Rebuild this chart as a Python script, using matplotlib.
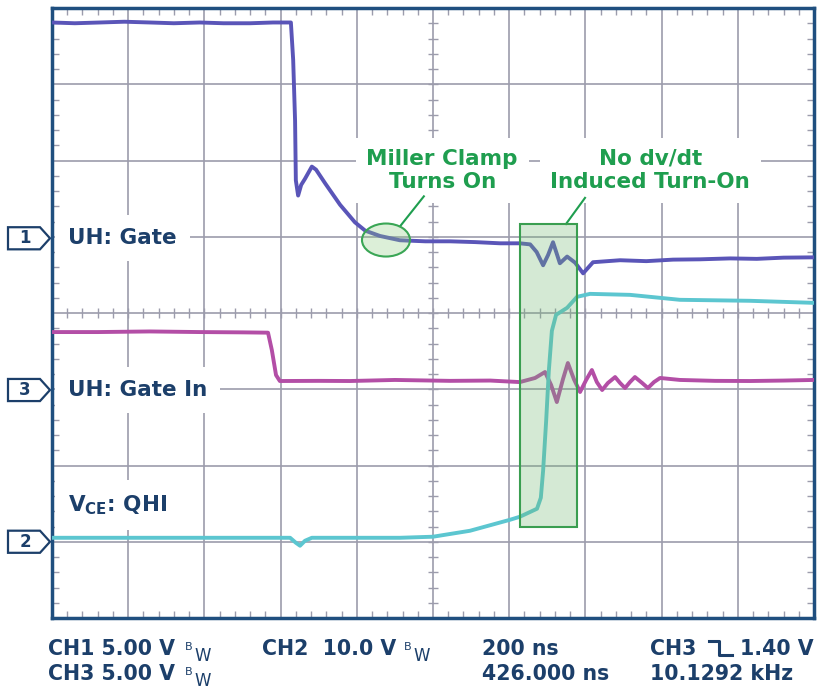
import numpy as np
import matplotlib
matplotlib.use('Agg')
import matplotlib.pyplot as plt
from matplotlib.patches import Rectangle, Ellipse, Polygon
from matplotlib.transforms import blended_transform_factory

plt.rcParams['font.family'] = 'DejaVu Sans'
plt.rcParams['mathtext.fontset'] = 'dejavusans'

# scope settings
ns_per_div = 200
ch1_v_per_div, ch2_v_per_div, ch3_v_per_div = 5.0, 10.0, 5.0
ch1_offset, ch3_offset, ch2_offset = 0.98, -1.01, -3.0   # ground markers, divisions

# CH1 UH: Gate  (time ns, volts)
ch1_t = [0, 60, 126, 190, 257, 320, 388, 450, 520, 580, 627, 633, 638, 640, 646, 654, 664,
         682, 693, 717, 756, 795, 822, 861, 913, 980, 1045, 1110, 1176, 1228, 1255, 1272,
         1289, 1302, 1315, 1333, 1352, 1373, 1394, 1420, 1491, 1560, 1630, 1701, 1780,
         1850, 1920, 2000]
ch1_v = [14.15, 14.1, 14.15, 14.2, 14.15, 14.1, 14.15, 14.1, 14.1, 14.15, 14.15, 11.7, 7.7,
         3.8, 2.8, 3.5, 3.9, 4.7, 4.5, 3.6, 2.2, 1.05, 0.5, 0.15, -0.13, -0.2, -0.2, -0.25,
         -0.33, -0.33, -0.4, -0.9, -1.77, -1.1, -0.26, -1.64, -1.2, -1.6, -2.3, -1.57, -1.44,
         -1.5, -1.4, -1.38, -1.32, -1.35, -1.27, -1.25]

# CH3 UH: Gate In
ch3_t = [0, 120, 257, 388, 500, 567, 577, 588, 598, 700, 782, 900, 1045, 1150, 1228, 1268,
         1294, 1310, 1325, 1341, 1354, 1370, 1386, 1402, 1417, 1430, 1444, 1459, 1478, 1491,
         1504, 1517, 1530, 1549, 1564, 1580, 1596, 1648, 1740, 1832, 1920, 2000]
ch3_v = [3.8, 3.8, 3.84, 3.8, 3.78, 3.76, 2.62, 0.98, 0.59, 0.6, 0.59, 0.66, 0.6, 0.62,
         0.52, 0.79, 1.18, 0.33, -0.79, 0.7, 1.77, 0.7, -0.13, 0.66, 1.31, 0.52, 0.0, 0.46,
         0.85, 0.46, 0.13, 0.52, 0.85, 0.46, 0.13, 0.52, 0.79, 0.66, 0.6, 0.59, 0.62, 0.66]

# CH2 VCE: QHI
ch2_t = [0, 257, 520, 625, 640, 651, 664, 682, 913, 1000, 1097, 1202, 1228, 1273, 1283,
         1289, 1297, 1304, 1312, 1323, 1352, 1378, 1412, 1517, 1648, 1832, 2000]
ch2_v = [0.52, 0.52, 0.52, 0.52, -0.13, -0.52, 0.13, 0.52, 0.52, 0.66, 1.44, 2.88, 3.28,
         4.33, 5.77, 9.31, 15.86, 22.42, 27.66, 29.76, 30.68, 32.12, 32.51, 32.38, 31.73,
         31.6, 31.33]

row1_labels = ['CH1 5.00 V', 'CH2  10.0 V', '200 ns', 'CH3', '1.40 V']
row2_labels = ['CH3 5.00 V', '426.000 ns', '10.1292 kHz']

navy = '#1c3f6a'
green = '#1f9e4f'
gridc = '#9c9cac'

fig = plt.figure(figsize=(8.2, 6.93), dpi=100)
over = fig.add_axes([0, 0, 1, 1])
over.set_xlim(0, 820)
over.set_ylim(693, 0)
over.axis('off')

ax = fig.add_axes([52 / 820, 75 / 693, 762 / 820, 610 / 693])
ax.set_xlim(0, 10)
ax.set_ylim(-4, 4)
ax.set_xticks(range(11))
ax.set_yticks(range(-4, 5))
ax.set_xticks(np.arange(0, 10.01, 0.2), minor=True)
ax.set_yticks(np.arange(-4, 4.01, 0.2), minor=True)
ax.grid(True, which='major', color=gridc, lw=1.2)
ax.set_axisbelow(True)
ax.tick_params(which='major', length=0, labelbottom=False, labelleft=False)
ax.tick_params(which='minor', direction='in', length=5, width=1, color=gridc,
               top=True, right=True)
for s in ax.spines.values():
    s.set_color('#1f4f7f')
    s.set_linewidth(2.5)

# center cross ticks
cx = np.arange(0, 10.01, 0.2)
cy = np.arange(-4, 4.01, 0.2)
ax.plot(cx, np.zeros_like(cx), ls='none', marker='|', ms=7, mew=1, color=gridc, zorder=1.5)
ax.plot(np.full_like(cy, 5.0), cy, ls='none', marker='_', ms=7, mew=1, color=gridc, zorder=1.5)

# traces
ax.plot(np.array(ch1_t) / ns_per_div, ch1_offset + np.array(ch1_v) / ch1_v_per_div,
        color='#5a55b8', lw=2.8, zorder=4)
ax.plot(np.array(ch3_t) / ns_per_div, ch3_offset + np.array(ch3_v) / ch3_v_per_div,
        color='#b34ea6', lw=2.8, zorder=4)
ax.plot(np.array(ch2_t) / ns_per_div, ch2_offset + np.array(ch2_v) / ch2_v_per_div,
        color='#5cc6d0', lw=2.8, zorder=4)

# trace labels
lab_kw = dict(fontsize=15.5, fontweight='bold', color=navy, va='center', ha='left',
              bbox=dict(boxstyle='square,pad=0.6', fc='white', ec='none'), zorder=3)
ax.text(0.21, ch1_offset, 'UH: Gate', **lab_kw)
ax.text(0.21, ch3_offset, 'UH: Gate In', **lab_kw)
ax.text(0.21, -2.52, r'$\mathbf{V}_{\mathbf{CE}}$: QHI', **lab_kw)

# annotations
ann_kw = dict(fontsize=15.5, fontweight='bold', color=green, ha='center', va='center',
              multialignment='center', linespacing=1.2,
              bbox=dict(boxstyle='square,pad=0.5', fc='white', ec='none'), zorder=3)
ax.text(5.12, 1.87, 'Miller Clamp\nTurns On', **ann_kw)
ax.text(7.85, 1.87, 'No dv/dt\nInduced Turn-On', **ann_kw)
ax.plot([4.57, 4.88], [1.14, 1.53], color=green, lw=1.5, zorder=5)
ax.plot([6.745, 6.995], [1.167, 1.51], color=green, lw=1.5, zorder=5)
ax.add_patch(Ellipse((4.383, 0.957), 0.63, 0.433, fc=(0.55, 0.8, 0.5, 0.3),
                     ec='#3aa655', lw=1.5, zorder=5))
ax.add_patch(Rectangle((6.142, -2.807), 0.748, 3.974, fc=(0.45, 0.72, 0.45, 0.3),
                       ec='#3a9e50', lw=1.5, zorder=5))

# channel ground markers
tr = blended_transform_factory(over.transData, ax.transData)
h = 0.145
for num, off in [('1', ch1_offset), ('3', ch3_offset), ('2', ch2_offset)]:
    over.add_patch(Polygon([(8, off + h), (40, off + h), (50, off), (40, off - h), (8, off - h)],
                           closed=True, fc='white', ec=navy, lw=1.6, transform=tr,
                           clip_on=False))
    over.text(25, off, num, transform=tr, fontsize=12, fontweight='bold', color=navy,
              ha='center', va='center')

# bottom readout
txt_kw = dict(fontsize=14.8, fontweight='bold', color=navy, ha='left', va='baseline')
over.text(48, 655, row1_labels[0], **txt_kw)
over.text(262, 655, row1_labels[1], **txt_kw)
over.text(482, 655, row1_labels[2], **txt_kw)
over.text(650, 655, row1_labels[3], **txt_kw)
over.text(740, 655, row1_labels[4], **txt_kw)
over.text(48, 680, row2_labels[0], **txt_kw)
over.text(482, 680, row2_labels[1], **txt_kw)
over.text(650, 680, row2_labels[2], **txt_kw)
for bx, by in [(185, 650), (404, 650), (185, 675)]:
    over.text(bx, by, 'B', fontsize=8, color=navy, ha='left', va='baseline')
    over.text(bx + 9, by + 11, 'W', fontsize=12, color=navy, ha='left', va='baseline')
over.plot([709, 719, 719, 732], [641, 641, 655, 655], color=navy, lw=2.2)

fig.savefig('out.png', dpi=100)
